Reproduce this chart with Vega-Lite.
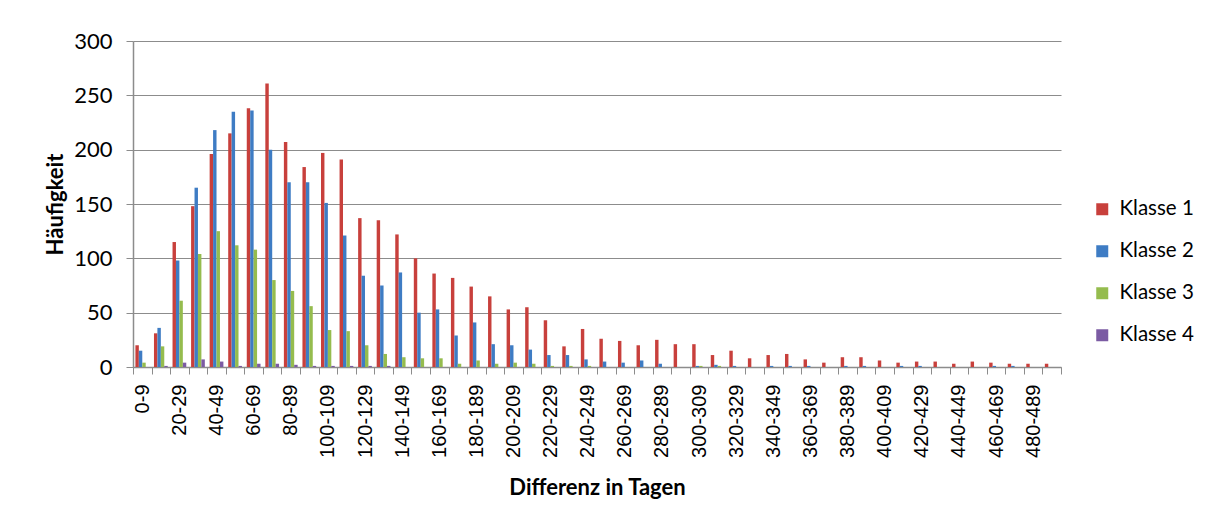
{
  "$schema": "https://vega.github.io/schema/vega-lite/v6.json",
  "autosize": "none",
  "padding": {"left": 133, "top": 41, "right": 144, "bottom": 153},
  "width": 928,
  "height": 326,
  "background": "white",
  "config": {"view": {"stroke": null}},
  "datasets": {
    "h": [
      {"d":"0-9","k":"Klasse 1","n":20},{"d":"0-9","k":"Klasse 2","n":15},{"d":"0-9","k":"Klasse 3","n":4},{"d":"0-9","k":"Klasse 4","n":0},
      {"d":"10-19","k":"Klasse 1","n":31},{"d":"10-19","k":"Klasse 2","n":36},{"d":"10-19","k":"Klasse 3","n":19},{"d":"10-19","k":"Klasse 4","n":1},
      {"d":"20-29","k":"Klasse 1","n":115},{"d":"20-29","k":"Klasse 2","n":98},{"d":"20-29","k":"Klasse 3","n":61},{"d":"20-29","k":"Klasse 4","n":4},
      {"d":"30-39","k":"Klasse 1","n":148},{"d":"30-39","k":"Klasse 2","n":165},{"d":"30-39","k":"Klasse 3","n":104},{"d":"30-39","k":"Klasse 4","n":7},
      {"d":"40-49","k":"Klasse 1","n":196},{"d":"40-49","k":"Klasse 2","n":218},{"d":"40-49","k":"Klasse 3","n":125},{"d":"40-49","k":"Klasse 4","n":5},
      {"d":"50-59","k":"Klasse 1","n":215},{"d":"50-59","k":"Klasse 2","n":235},{"d":"50-59","k":"Klasse 3","n":112},{"d":"50-59","k":"Klasse 4","n":1},
      {"d":"60-69","k":"Klasse 1","n":238},{"d":"60-69","k":"Klasse 2","n":236},{"d":"60-69","k":"Klasse 3","n":108},{"d":"60-69","k":"Klasse 4","n":3},
      {"d":"70-79","k":"Klasse 1","n":261},{"d":"70-79","k":"Klasse 2","n":200},{"d":"70-79","k":"Klasse 3","n":80},{"d":"70-79","k":"Klasse 4","n":3},
      {"d":"80-89","k":"Klasse 1","n":207},{"d":"80-89","k":"Klasse 2","n":170},{"d":"80-89","k":"Klasse 3","n":70},{"d":"80-89","k":"Klasse 4","n":2},
      {"d":"90-99","k":"Klasse 1","n":184},{"d":"90-99","k":"Klasse 2","n":170},{"d":"90-99","k":"Klasse 3","n":56},{"d":"90-99","k":"Klasse 4","n":1},
      {"d":"100-109","k":"Klasse 1","n":197},{"d":"100-109","k":"Klasse 2","n":151},{"d":"100-109","k":"Klasse 3","n":34},{"d":"100-109","k":"Klasse 4","n":1},
      {"d":"110-119","k":"Klasse 1","n":191},{"d":"110-119","k":"Klasse 2","n":121},{"d":"110-119","k":"Klasse 3","n":33},{"d":"110-119","k":"Klasse 4","n":1},
      {"d":"120-129","k":"Klasse 1","n":137},{"d":"120-129","k":"Klasse 2","n":84},{"d":"120-129","k":"Klasse 3","n":20},{"d":"120-129","k":"Klasse 4","n":1},
      {"d":"130-139","k":"Klasse 1","n":135},{"d":"130-139","k":"Klasse 2","n":75},{"d":"130-139","k":"Klasse 3","n":12},{"d":"130-139","k":"Klasse 4","n":1},
      {"d":"140-149","k":"Klasse 1","n":122},{"d":"140-149","k":"Klasse 2","n":87},{"d":"140-149","k":"Klasse 3","n":9},{"d":"140-149","k":"Klasse 4","n":0},
      {"d":"150-159","k":"Klasse 1","n":100},{"d":"150-159","k":"Klasse 2","n":50},{"d":"150-159","k":"Klasse 3","n":8},{"d":"150-159","k":"Klasse 4","n":0},
      {"d":"160-169","k":"Klasse 1","n":86},{"d":"160-169","k":"Klasse 2","n":53},{"d":"160-169","k":"Klasse 3","n":8},{"d":"160-169","k":"Klasse 4","n":0},
      {"d":"170-179","k":"Klasse 1","n":82},{"d":"170-179","k":"Klasse 2","n":29},{"d":"170-179","k":"Klasse 3","n":3},{"d":"170-179","k":"Klasse 4","n":0},
      {"d":"180-189","k":"Klasse 1","n":74},{"d":"180-189","k":"Klasse 2","n":41},{"d":"180-189","k":"Klasse 3","n":6},{"d":"180-189","k":"Klasse 4","n":0},
      {"d":"190-199","k":"Klasse 1","n":65},{"d":"190-199","k":"Klasse 2","n":21},{"d":"190-199","k":"Klasse 3","n":3},{"d":"190-199","k":"Klasse 4","n":0},
      {"d":"200-209","k":"Klasse 1","n":53},{"d":"200-209","k":"Klasse 2","n":20},{"d":"200-209","k":"Klasse 3","n":4},{"d":"200-209","k":"Klasse 4","n":0},
      {"d":"210-219","k":"Klasse 1","n":55},{"d":"210-219","k":"Klasse 2","n":16},{"d":"210-219","k":"Klasse 3","n":3},{"d":"210-219","k":"Klasse 4","n":0},
      {"d":"220-229","k":"Klasse 1","n":43},{"d":"220-229","k":"Klasse 2","n":11},{"d":"220-229","k":"Klasse 3","n":1},{"d":"220-229","k":"Klasse 4","n":0},
      {"d":"230-239","k":"Klasse 1","n":19},{"d":"230-239","k":"Klasse 2","n":11},{"d":"230-239","k":"Klasse 3","n":1},{"d":"230-239","k":"Klasse 4","n":0},
      {"d":"240-249","k":"Klasse 1","n":35},{"d":"240-249","k":"Klasse 2","n":7},{"d":"240-249","k":"Klasse 3","n":1},{"d":"240-249","k":"Klasse 4","n":0},
      {"d":"250-259","k":"Klasse 1","n":26},{"d":"250-259","k":"Klasse 2","n":5},{"d":"250-259","k":"Klasse 3","n":0},{"d":"250-259","k":"Klasse 4","n":0},
      {"d":"260-269","k":"Klasse 1","n":24},{"d":"260-269","k":"Klasse 2","n":4},{"d":"260-269","k":"Klasse 3","n":0},{"d":"260-269","k":"Klasse 4","n":0},
      {"d":"270-279","k":"Klasse 1","n":20},{"d":"270-279","k":"Klasse 2","n":6},{"d":"270-279","k":"Klasse 3","n":0},{"d":"270-279","k":"Klasse 4","n":0},
      {"d":"280-289","k":"Klasse 1","n":25},{"d":"280-289","k":"Klasse 2","n":3},{"d":"280-289","k":"Klasse 3","n":0},{"d":"280-289","k":"Klasse 4","n":0},
      {"d":"290-299","k":"Klasse 1","n":21},{"d":"290-299","k":"Klasse 2","n":0},{"d":"290-299","k":"Klasse 3","n":0},{"d":"290-299","k":"Klasse 4","n":0},
      {"d":"300-309","k":"Klasse 1","n":21},{"d":"300-309","k":"Klasse 2","n":1},{"d":"300-309","k":"Klasse 3","n":1},{"d":"300-309","k":"Klasse 4","n":0},
      {"d":"310-319","k":"Klasse 1","n":11},{"d":"310-319","k":"Klasse 2","n":2},{"d":"310-319","k":"Klasse 3","n":1},{"d":"310-319","k":"Klasse 4","n":0},
      {"d":"320-329","k":"Klasse 1","n":15},{"d":"320-329","k":"Klasse 2","n":1},{"d":"320-329","k":"Klasse 3","n":0},{"d":"320-329","k":"Klasse 4","n":0},
      {"d":"330-339","k":"Klasse 1","n":8},{"d":"330-339","k":"Klasse 2","n":0},{"d":"330-339","k":"Klasse 3","n":0},{"d":"330-339","k":"Klasse 4","n":0},
      {"d":"340-349","k":"Klasse 1","n":11},{"d":"340-349","k":"Klasse 2","n":1},{"d":"340-349","k":"Klasse 3","n":0},{"d":"340-349","k":"Klasse 4","n":0},
      {"d":"350-359","k":"Klasse 1","n":12},{"d":"350-359","k":"Klasse 2","n":1},{"d":"350-359","k":"Klasse 3","n":0},{"d":"350-359","k":"Klasse 4","n":0},
      {"d":"360-369","k":"Klasse 1","n":7},{"d":"360-369","k":"Klasse 2","n":1},{"d":"360-369","k":"Klasse 3","n":0},{"d":"360-369","k":"Klasse 4","n":0},
      {"d":"370-379","k":"Klasse 1","n":4},{"d":"370-379","k":"Klasse 2","n":0},{"d":"370-379","k":"Klasse 3","n":0},{"d":"370-379","k":"Klasse 4","n":0},
      {"d":"380-389","k":"Klasse 1","n":9},{"d":"380-389","k":"Klasse 2","n":1},{"d":"380-389","k":"Klasse 3","n":0},{"d":"380-389","k":"Klasse 4","n":0},
      {"d":"390-399","k":"Klasse 1","n":9},{"d":"390-399","k":"Klasse 2","n":1},{"d":"390-399","k":"Klasse 3","n":0},{"d":"390-399","k":"Klasse 4","n":0},
      {"d":"400-409","k":"Klasse 1","n":6},{"d":"400-409","k":"Klasse 2","n":0},{"d":"400-409","k":"Klasse 3","n":0},{"d":"400-409","k":"Klasse 4","n":0},
      {"d":"410-419","k":"Klasse 1","n":4},{"d":"410-419","k":"Klasse 2","n":1},{"d":"410-419","k":"Klasse 3","n":0},{"d":"410-419","k":"Klasse 4","n":0},
      {"d":"420-429","k":"Klasse 1","n":5},{"d":"420-429","k":"Klasse 2","n":1},{"d":"420-429","k":"Klasse 3","n":0},{"d":"420-429","k":"Klasse 4","n":0},
      {"d":"430-439","k":"Klasse 1","n":5},{"d":"430-439","k":"Klasse 2","n":0},{"d":"430-439","k":"Klasse 3","n":0},{"d":"430-439","k":"Klasse 4","n":0},
      {"d":"440-449","k":"Klasse 1","n":3},{"d":"440-449","k":"Klasse 2","n":0},{"d":"440-449","k":"Klasse 3","n":0},{"d":"440-449","k":"Klasse 4","n":0},
      {"d":"450-459","k":"Klasse 1","n":5},{"d":"450-459","k":"Klasse 2","n":0},{"d":"450-459","k":"Klasse 3","n":0},{"d":"450-459","k":"Klasse 4","n":0},
      {"d":"460-469","k":"Klasse 1","n":4},{"d":"460-469","k":"Klasse 2","n":1},{"d":"460-469","k":"Klasse 3","n":0},{"d":"460-469","k":"Klasse 4","n":0},
      {"d":"470-479","k":"Klasse 1","n":3},{"d":"470-479","k":"Klasse 2","n":1},{"d":"470-479","k":"Klasse 3","n":0},{"d":"470-479","k":"Klasse 4","n":0},
      {"d":"480-489","k":"Klasse 1","n":3},{"d":"480-489","k":"Klasse 2","n":0},{"d":"480-489","k":"Klasse 3","n":0},{"d":"480-489","k":"Klasse 4","n":0},
      {"d":"490-499","k":"Klasse 1","n":3},{"d":"490-499","k":"Klasse 2","n":0},{"d":"490-499","k":"Klasse 3","n":0},{"d":"490-499","k":"Klasse 4","n":0}
    ]
  },
  "data": {"name": "h"},
  "mark": {"type": "bar"},
  "encoding": {
    "x": {
      "field": "d", "type": "nominal", "sort": null,
      "scale": {"paddingInner": 0, "paddingOuter": 0},
      "axis": {
        "title": "Differenz in Tagen",
        "titleFont": "Lato", "titleFontSize": 22, "titleFontWeight": "bold", "titleColor": "#000000",
        "titlePadding": 20,
        "labelAngle": -90, "labelFont": "Liberation Sans", "labelFontSize": 20, "labelColor": "#000000",
        "labelExpr": "toNumber(split(datum.value, '-')[0]) % 20 == 0 ? datum.label : ''",
        "labelPadding": 10, "labelOverlap": false,
        "tickBand": "extent", "tickSize": 7, "tickColor": "#8c8c8c",
        "domainColor": "#8c8c8c", "domainWidth": 1.5
      }
    },
    "xOffset": {"field": "k", "type": "nominal", "scale": {"paddingInner": 0, "paddingOuter": 0.7}},
    "y": {
      "field": "n", "type": "quantitative",
      "scale": {"domain": [0, 300], "nice": false},
      "axis": {
        "title": "Häufigkeit",
        "titleFont": "Lato", "titleFontSize": 22, "titleFontWeight": "bold", "titleColor": "#000000",
        "values": [0, 50, 100, 150, 200, 250, 300],
        "labelFont": "Lato", "labelFontSize": 22, "labelColor": "#000000", "labelPadding": 14,
        "tickSize": 7, "tickColor": "#8c8c8c",
        "grid": true, "gridColor": "#8c8c8c", "gridWidth": 1.2,
        "domainColor": "#8c8c8c", "domainWidth": 1.5,
        "titlePadding": 6
      }
    },
    "color": {
      "field": "k", "type": "nominal",
      "scale": {"domain": ["Klasse 1", "Klasse 2", "Klasse 3", "Klasse 4"], "range": ["#C8403C", "#3E7CC4", "#95BC4E", "#7B5BA3"]},
      "legend": {
        "title": null, "orient": "none", "legendX": 959, "legendY": 158,
        "symbolType": "square", "symbolSize": 144, "symbolStrokeWidth": 0,
        "labelFont": "Lato", "labelFontSize": 20.5, "labelColor": "#000000", "labelOffset": 7,
        "rowPadding": 21
      }
    }
  }
}
